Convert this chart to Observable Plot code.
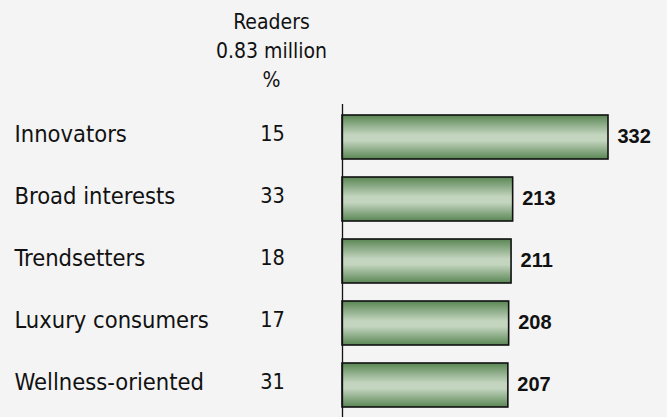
<!DOCTYPE html>
<html>
<head>
<meta charset="utf-8">
<script src="https://cdn.jsdelivr.net/npm/d3@7"></script>
<script src="https://cdn.jsdelivr.net/npm/@observablehq/plot@0.6"></script>
<style>
  html, body { margin: 0; padding: 0; background: #f4f4f4; }
  #chart { width: 667px; height: 417px; overflow: hidden; }
</style>
</head>
<body>
<div id="chart"></div>
<script>
const categories = ["Innovators", "Broad interests", "Trendsetters", "Luxury consumers", "Wellness-oriented"];
const readersPct = [15, 33, 18, 17, 31];
const indexValues = [332, 213, 211, 208, 207];
const headerLines = ["Readers", "0.83 million", "%"];

const rows = categories.map((c, i) => ({cat: c, pct: readersPct[i], value: indexValues[i]}));

const narrow = "'Liberation Sans Narrow', 'Arial Narrow', 'DejaVu Sans Condensed', sans-serif";

const plot = Plot.plot({
  width: 667,
  height: 417,
  marginLeft: 342,
  marginRight: 59,
  marginTop: 104,
  marginBottom: 0,
  style: {background: "#f4f4f4", overflow: "visible"},
  x: {domain: [0, 332], axis: null},
  y: {domain: categories, padding: 0, axis: null},
  marks: [
    Plot.barX(rows, {x: "value", y: "cat", fill: "url(#barGrad)", stroke: "#111", strokeWidth: 1.6, insetTop: 9, insetBottom: 9}),
    Plot.ruleX([0], {stroke: "#111", strokeWidth: 1.3}),
    Plot.text(rows, {x: "value", y: "cat", text: d => String(d.value), textAnchor: "start", dx: 9, dy: -1,
      fontFamily: "'Liberation Sans', Arial, sans-serif", fontWeight: "bold", fontSize: 20, fill: "#111"}),
    Plot.text(rows, {y: "cat", text: "cat", frameAnchor: "left", dx: -328, dy: -3, textAnchor: "start",
      fontFamily: narrow, fontSize: 23.5, fill: "#111"}),
    Plot.text(rows, {y: "cat", text: d => String(d.pct), frameAnchor: "left", dx: -70, dy: -3, textAnchor: "middle",
      fontFamily: narrow, fontSize: 21.5, fill: "#111"}),
    Plot.text([headerLines.join("\n")], {frameAnchor: "top-left", dx: -71, dy: -104 + 8, textAnchor: "middle", lineAnchor: "top",
      lineHeight: 1.38, fontFamily: narrow, fontSize: 21, fill: "#111"})
  ]
});

const svg = d3.select(plot);
const defs = svg.insert("defs", ":first-child");
const g = defs.append("linearGradient").attr("id", "barGrad").attr("x1", 0).attr("y1", 0).attr("x2", 0).attr("y2", 1);
g.append("stop").attr("offset", "0%").attr("stop-color", "#5a8654");
g.append("stop").attr("offset", "45%").attr("stop-color", "#c3d5bf");
g.append("stop").attr("offset", "58%").attr("stop-color", "#c3d5bf");
g.append("stop").attr("offset", "100%").attr("stop-color", "#5a8654");

document.getElementById("chart").appendChild(plot);
</script>
</body>
</html>
